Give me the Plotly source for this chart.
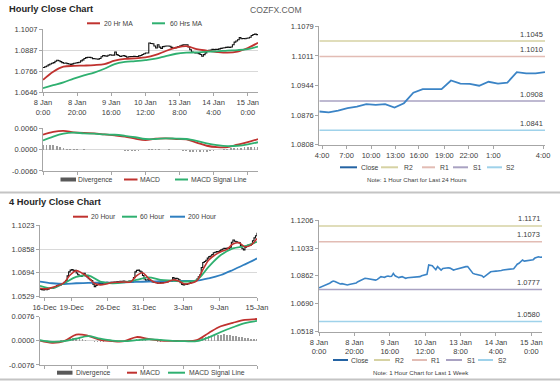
import plotly.graph_objects as go

W, H = 560, 386
FONT = "Liberation Sans, Arial, sans-serif"

# ---------------- data ----------------
# Hourly chart (8 Jan 0:00 .. 15 Jan ~6:00, weekend skipped), index = trading hour
hour_ticks = [0, 20, 40, 60, 80, 100, 120]
hour_labels = ["8 Jan<br>0:00", "8 Jan<br>20:00", "9 Jan<br>16:00", "10 Jan<br>12:00",
               "13 Jan<br>8:00", "14 Jan<br>4:00", "15 Jan<br>0:00"]
hourly_close = [
    1.0788, 1.0792, 1.0797, 1.0803, 1.0808, 1.0812, 1.0816, 1.0824, 1.0830, 1.0827,
    1.0822, 1.0816, 1.0812, 1.0814, 1.0810, 1.0808, 1.0806, 1.0809, 1.0812, 1.0814,
    1.0816, 1.0818, 1.0826, 1.0832, 1.0840, 1.0845, 1.0847, 1.0846, 1.0844, 1.0839,
    1.0838, 1.0837, 1.0836, 1.0840, 1.0850, 1.0857, 1.0855, 1.0853, 1.0858, 1.0861,
    1.0858, 1.0859, 1.0877, 1.0862, 1.0857, 1.0851, 1.0854, 1.0857, 1.0852, 1.0847,
    1.0850, 1.0851, 1.0851, 1.0852, 1.0851, 1.0851, 1.0855, 1.0857, 1.0863, 1.0867,
    1.0871, 1.0871, 1.0929, 1.0926, 1.0925, 1.0912, 1.0900, 1.0919, 1.0905, 1.0898,
    1.0908, 1.0910, 1.0912, 1.0912, 1.0910, 1.0904, 1.0898, 1.0901, 1.0904, 1.0908,
    1.0912, 1.0915, 1.0919, 1.0919, 1.0919, 1.0906, 1.0890, 1.0877, 1.0874, 1.0872,
    1.0871, 1.0868, 1.0863, 1.0853, 1.0862, 1.0872, 1.0882, 1.0887, 1.0889, 1.0892,
    1.0891, 1.0892, 1.0892, 1.0895, 1.0898, 1.0900, 1.0902, 1.0904, 1.0905, 1.0904,
    1.0906, 1.0919, 1.0934, 1.0940, 1.0948, 1.0960, 1.0953, 1.0955, 1.0953, 1.0956,
    1.0958, 1.0962, 1.0972, 1.0978, 1.0980, 1.0977, 1.0978,
]
ma_hours = list(range(0, 127, 6))
ma20_hr = [1.0717, 1.0764, 1.0793, 1.0797, 1.0799, 1.0802, 1.0808, 1.0827, 1.0837, 1.0841, 1.0846,
           1.0860, 1.0883, 1.0902, 1.0911, 1.0894, 1.0885, 1.0877, 1.0873, 1.0879, 1.0900, 1.0930]
ma60_hr = [1.0669, 1.0686, 1.0703, 1.0724, 1.0743, 1.0759, 1.0781, 1.0808, 1.0820, 1.0825, 1.0831,
           1.0839, 1.0854, 1.0867, 1.0873, 1.0875, 1.0879, 1.0881, 1.0885, 1.0888, 1.0894, 1.0908]
macd_hr = [0.0042, 0.0050, 0.0053, 0.0049, 0.0047, 0.0046, 0.0043, 0.0040, 0.0037, 0.0031, 0.0027,
           0.0031, 0.0032, 0.0030, 0.0029, 0.0020, 0.0011, 0.0007, 0.0007, 0.0014, 0.0021, 0.0030]
signal_hr = [0.0026, 0.0037, 0.0045, 0.0048, 0.0046, 0.0045, 0.0043, 0.0042, 0.0039, 0.0035, 0.0030,
             0.0030, 0.0032, 0.0031, 0.0030, 0.0025, 0.0018, 0.0013, 0.0010, 0.0011, 0.0015, 0.0021]
div_hours = list(range(0, 127, 2))
div_hr = [0.0014, 0.0014, 0.0013, 0.0012, 0.0010, 0.0007,
          0.0004, 0.0002, 0.0001, 0.0001, 0.0001,
          0.0000, 0.0001, 0.0000, 0.0000, -0.0001, 0.0000, 0.0000, -0.0002, 0.0000, -0.0001,
          -0.0001, -0.0002, -0.0002, -0.0003, -0.0003, -0.0004, -0.0004, -0.0003, -0.0002, -0.0001,
          0.0001, 0.0002, 0.0001, 0.0001, 0.0000, 0.0000, 0.0001, 0.0000, -0.0001, -0.0002,
          -0.0003, -0.0005, -0.0006, -0.0007, -0.0008, -0.0008, -0.0007, -0.0006, -0.0005, -0.0004,
          -0.0002, 0.0000, 0.0002, 0.0003, 0.0004, 0.0005, 0.0006, 0.0006, 0.0007, 0.0007, 0.0008,
          0.0008, 0.0008]

# Last 24 hours chart
day_ticks = [0.3, 2.9, 5.5, 8.1, 10.6, 13.3, 15.9, 18.5, 23.8]
day_labels = ["4:00", "7:00", "10:00", "13:00", "16:00", "19:00", "22:00", "1:00", "4:00"]
day_close = [1.0884, 1.0882, 1.0886, 1.0892, 1.0895, 1.0901, 1.0899, 1.0901, 1.0893, 1.0903,
             1.0927, 1.0935, 1.0935, 1.0935, 1.0955, 1.0948, 1.0947, 1.0943, 1.0952, 1.0948,
             1.0950, 1.0974, 1.0971, 1.0971, 1.0974]
day_levels = {"R2": 1.1045, "R1": 1.1010, "S1": 1.0908, "S2": 1.0841}
week_levels = {"R2": 1.1171, "R1": 1.1073, "S1": 1.0777, "S2": 1.0580}

# 4-hourly chart (16 Dec .. 15 Jan), index = 4h bar
bar_ticks = [3, 21, 45, 69, 95, 119, 144]
bar_labels = ["16-Dec", "19-Dec", "26-Dec", "31-Dec", "3-Jan", "9-Jan", "15-Jan"]
close_4h = [
    1.0580, 1.0577, 1.0575, 1.0578, 1.0576, 1.0580,
    1.0585, 1.0588, 1.0586, 1.0590, 1.0596,
    1.0605, 1.0610, 1.0608, 1.0612, 1.0618,
    1.0628, 1.0640, 1.0672, 1.0700,
    1.0712, 1.0715, 1.0706, 1.0710, 1.0692,
    1.0680, 1.0672, 1.0668, 1.0675, 1.0690,
    1.0672, 1.0665, 1.0652, 1.0645, 1.0640,
    1.0615, 1.0598, 1.0605, 1.0615, 1.0620,
    1.0622, 1.0620, 1.0625, 1.0622, 1.0628,
    1.0626, 1.0624, 1.0628, 1.0626, 1.0630,
    1.0628, 1.0632, 1.0630, 1.0635, 1.0632,
    1.0636, 1.0634, 1.0630, 1.0633, 1.0636,
    1.0626, 1.0630, 1.0660, 1.0700, 1.0710,
    1.0712, 1.0705, 1.0698, 1.0675, 1.0650,
    1.0642, 1.0645, 1.0638, 1.0640, 1.0632,
    1.0628, 1.0630, 1.0624, 1.0622, 1.0625,
    1.0628, 1.0625, 1.0632, 1.0635, 1.0630,
    1.0638, 1.0640, 1.0636, 1.0660, 1.0650,
    1.0655, 1.0652, 1.0645, 1.0625, 1.0612,
    1.0610, 1.0615, 1.0612, 1.0618, 1.0622,
    1.0630, 1.0632, 1.0635, 1.0640, 1.0650,
    1.0665, 1.0680, 1.0730, 1.0765, 1.0772,
    1.0780, 1.0795, 1.0805, 1.0810, 1.0820,
    1.0832, 1.0835, 1.0840, 1.0838, 1.0845,
    1.0852, 1.0858, 1.0862, 1.0860, 1.0865,
    1.0862, 1.0870, 1.0905, 1.0920, 1.0912,
    1.0908, 1.0905, 1.0900, 1.0880, 1.0860,
    1.0852, 1.0870, 1.0880, 1.0885, 1.0882,
    1.0890, 1.0915, 1.0935, 1.0950, 1.0970,
]
ma20_bars = list(range(0, 145, 4))
ma20_4h = [1.0587, 1.0582, 1.0591, 1.0605, 1.0626, 1.0678, 1.0708, 1.0690, 1.0662, 1.0621,
           1.0610, 1.0616, 1.0626, 1.0628, 1.0630, 1.0630, 1.0672, 1.0694, 1.0655, 1.0628,
           1.0621, 1.0628, 1.0644, 1.0637, 1.0616, 1.0621, 1.0637, 1.0713, 1.0782, 1.0816,
           1.0839, 1.0855, 1.0892, 1.0901, 1.0874, 1.0885, 1.0931]
ma_bars = list(range(0, 145, 8))
ma60_4h = [1.0603, 1.0587, 1.0621, 1.0665, 1.0675, 1.0633, 1.0621, 1.0628, 1.0644, 1.0662,
           1.0644, 1.0639, 1.0633, 1.0644, 1.0736, 1.0816, 1.0862, 1.0878, 1.0908]
ma200_4h = [1.0633, 1.0621, 1.0616, 1.0621, 1.0623, 1.0626, 1.0626, 1.0628, 1.0630, 1.0633,
            1.0635, 1.0637, 1.0637, 1.0639, 1.0655, 1.0678, 1.0713, 1.0752, 1.0793]
macd_4h = [0.0001, -0.0006, -0.0001, 0.0020, 0.0016, 0.0003, -0.0001, -0.0001, 0.0012, 0.0006,
           0.0001, 0.0000, -0.0001, 0.0002, 0.0025, 0.0046, 0.0057, 0.0066, 0.0069]
signal_4h = [0.0002, -0.0003, -0.0001, 0.0007, 0.0015, 0.0007, 0.0001, -0.0001, 0.0002, 0.0005,
             0.0003, 0.0000, -0.0001, -0.0001, 0.0011, 0.0028, 0.0043, 0.0056, 0.0063]
div_bars = list(range(0, 145, 2))
div_4h = [-0.0001, -0.0002, -0.0003, -0.0003, -0.0002, -0.0001, 0.0000, 0.0002,
          0.0004, 0.0007, 0.0009, 0.0010, 0.0010, 0.0009, 0.0007, 0.0004,
          0.0001, -0.0002, -0.0004, -0.0005, -0.0004, -0.0003, -0.0002, -0.0001,
          0.0000, 0.0000, 0.0000, 0.0000, 0.0000, 0.0001, 0.0002, 0.0003,
          0.0005, 0.0006, 0.0005, 0.0003, 0.0001, -0.0001, -0.0002, -0.0003,
          -0.0003, -0.0002, -0.0001, 0.0000, 0.0000, -0.0001, -0.0002, -0.0002,
          -0.0001, 0.0000, 0.0001, 0.0002, 0.0003, 0.0006, 0.0009, 0.0012,
          0.0014, 0.0016, 0.0018, 0.0019, 0.0020, 0.0021, 0.0020, 0.0018,
          0.0016, 0.0014, 0.0013, 0.0011, 0.0009, 0.0008, 0.0006, 0.0005, 0.0005]

# ---------------- style ----------------
RED = "#c0322f"
GREEN = "#2fb070"
BLUE200 = "#2f7fc0"
CLOSE = "#3b84c6"
LEVEL_COL = {"R2": "#d6d2a3", "R1": "#e2bcb4", "S1": "#a9a2c2", "S2": "#9fd2ea"}
DIV = "#9c9c9c"
AX = "#a6a6a6"
GRID = "#d9d9d9"
TICKF = dict(size=7.5, color="#404040", family=FONT)


def xd(x0, x1):
    return [x0 / W, x1 / W]


def yd(y0, y1):
    return [1 - y1 / H, 1 - y0 / H]


def px(x):
    return x / W


def py(y):
    return 1 - y / H


def yaxis(dom, lo, hi, vals, grid, anchor):
    return dict(domain=dom, range=[lo - (hi - lo) * 0.002, hi + (hi - lo) * 0.002],
                tickvals=vals, ticktext=[f"{v:.4f}" for v in vals],
                showgrid=grid, gridcolor=GRID, gridwidth=1, zeroline=False,
                showline=True, linecolor=AX, linewidth=1, ticks="outside", ticklen=3,
                tickcolor=AX, tickfont=TICKF, anchor=anchor, fixedrange=True, automargin=False)


def xaxis(dom, lo, hi, vals, labels, anchor, show_labels=True):
    return dict(domain=dom, range=[lo, hi], tickvals=vals, ticktext=labels,
                showticklabels=show_labels, showgrid=False, zeroline=False,
                showline=True, linecolor=AX, linewidth=1, ticks="outside", ticklen=3,
                tickcolor=AX, tickfont=TICKF, anchor=anchor, tickangle=0, fixedrange=True,
                automargin=False)


fig = go.Figure()


def line(x, y, color, width, xa, ya, shape="linear"):
    fig.add_trace(go.Scatter(x=x, y=y, mode="lines", line=dict(color=color, width=width, shape=shape),
                             xaxis=xa, yaxis=ya, showlegend=False, hoverinfo="skip"))


# Top-left: hourly close with MAs
line(list(range(len(hourly_close))), hourly_close, "#111111", 1.1, "x", "y", "hv")
line(ma_hours, ma20_hr, RED, 1.8, "x", "y", "spline")
line(ma_hours, ma60_hr, GREEN, 1.8, "x", "y", "spline")
# Top-left MACD
fig.add_trace(go.Bar(x=div_hours, y=div_hr, width=1.0, marker=dict(color=DIV, line=dict(width=0)),
                     xaxis="x2", yaxis="y2", showlegend=False, hoverinfo="skip"))
line(ma_hours, macd_hr, RED, 1.8, "x2", "y2", "spline")
line(ma_hours, signal_hr, GREEN, 1.8, "x2", "y2", "spline")

# Top-right: last 24 hours with pivot levels
for name, lvl in day_levels.items():
    line([0, len(day_close) - 1], [lvl, lvl], LEVEL_COL[name], 1.5, "x3", "y3")
line(list(range(len(day_close))), day_close, CLOSE, 1.8, "x3", "y3")

# Bottom-left: 4-hourly close with MAs
line(list(range(len(close_4h))), close_4h, "#111111", 1.1, "x4", "y4", "hv")
line(ma_bars, ma200_4h, BLUE200, 1.8, "x4", "y4", "spline")
line(ma_bars, ma60_4h, GREEN, 1.8, "x4", "y4", "spline")
line(ma20_bars, ma20_4h, RED, 1.6, "x4", "y4", "spline")
# Bottom-left MACD
fig.add_trace(go.Bar(x=div_bars, y=div_4h, width=0.9, marker=dict(color=DIV, line=dict(width=0)),
                     xaxis="x5", yaxis="y5", showlegend=False, hoverinfo="skip"))
line(ma_bars, macd_4h, RED, 1.8, "x5", "y5", "spline")
line(ma_bars, signal_4h, GREEN, 1.8, "x5", "y5", "spline")

# Bottom-right: last week with pivot levels
for name, lvl in week_levels.items():
    line([0, len(hourly_close) - 1], [lvl, lvl], LEVEL_COL[name], 1.5, "x6", "y6")
line(list(range(len(hourly_close))), hourly_close, CLOSE, 1.6, "x6", "y6")

n_h = len(hourly_close) - 1
fig.update_layout(
    template="none",
    width=W, height=H, margin=dict(l=0, r=0, t=0, b=0, pad=0),
    paper_bgcolor="white", plot_bgcolor="white", showlegend=False,
    font=dict(family=FONT, color="#404040"), bargap=0,
    xaxis=xaxis(xd(43, 258), 0, n_h, hour_ticks, hour_labels, "y"),
    yaxis=yaxis(yd(29.3, 92.3), 1.0646, 1.1007, [1.0646, 1.0766, 1.0887, 1.1007], True, "x"),
    xaxis2=xaxis(xd(43, 258), 0, n_h, hour_ticks, hour_labels, "y2", False),
    yaxis2=yaxis(yd(128.3, 171), -0.006, 0.006, [-0.006, 0.0, 0.006], True, "x2"),
    xaxis3=xaxis(xd(319.3, 545), 0, len(day_close) - 1, day_ticks, day_labels, "y3"),
    yaxis3=yaxis(yd(26, 145), 1.0808, 1.1079, [1.0808, 1.0876, 1.0944, 1.1011, 1.1079], False, "x3"),
    xaxis4=xaxis(xd(40, 257), 0, len(close_4h) - 1, bar_ticks, bar_labels, "y4"),
    yaxis4=yaxis(yd(225, 296.7), 1.0529, 1.1023, [1.0529, 1.0694, 1.0858, 1.1023], True, "x4"),
    xaxis5=xaxis(xd(40, 257), 0, len(close_4h) - 1, bar_ticks, bar_labels, "y5", False),
    yaxis5=yaxis(yd(316.7, 365), -0.0076, 0.0076, [-0.0076, 0.0, 0.0076], True, "x5"),
    xaxis6=xaxis(xd(319, 542), 0, n_h, hour_ticks, hour_labels, "y6"),
    yaxis6=yaxis(yd(220, 331.7), 1.0518, 1.1206, [1.0518, 1.0690, 1.0862, 1.1033, 1.1206], False, "x6"),
)

shapes = []
ann = []


def text(x, y, s, size=6.8, color="#404040", anchor="left", bold=False):
    ann.append(dict(x=px(x), y=py(y), xref="paper", yref="paper", text=f"<b>{s}</b>" if bold else s,
                    showarrow=False, xanchor=anchor, yanchor="middle",
                    font=dict(size=size, color=color, family=FONT)))


def leg_line(x0, x1, y, color, width=2):
    shapes.append(dict(type="line", xref="paper", yref="paper", x0=px(x0), x1=px(x1), y0=py(y), y1=py(y),
                       line=dict(color=color, width=width)))


def leg_rect(x0, x1, y, color):
    shapes.append(dict(type="rect", xref="paper", yref="paper", x0=px(x0), x1=px(x1),
                       y0=py(y + 2), y1=py(y - 2), fillcolor=color, line=dict(width=0)))


# separators
for ys in (192.5, 379.5):
    shapes.append(dict(type="line", xref="paper", yref="paper", x0=0, x1=1, y0=py(ys), y1=py(ys),
                       line=dict(color="#c4c4c4", width=2)))

# titles
text(7, 9.5, "Hourly Close Chart", 9.3, "#262626", bold=True)
text(7, 201.5, "4 Hourly Close Chart", 9.3, "#262626", bold=True)
text(248, 10, "COZFX.COM", 8.6, "#5e5e5e")

# top-left legends
leg_line(87, 100, 23.3, RED); text(102, 23.3, "20 Hr MA")
leg_line(152, 165, 23.3, GREEN); text(167.5, 23.3, "60 Hrs MA")
leg_rect(60.5, 76, 179.5, "#595959"); text(76, 179.5, "Divergence")
leg_line(124, 137.5, 179.5, RED); text(138, 179.5, "MACD")
leg_line(175, 188, 179.5, GREEN); text(189, 179.5, "MACD Signal Line")

# bottom-left legends
leg_line(73, 88, 216.7, RED); text(89, 216.7, "20 Hour")
leg_line(122, 137, 216.7, GREEN); text(137.5, 216.7, "60 Hour")
leg_line(170, 185, 216.7, BLUE200); text(186, 216.7, "200 Hour")
leg_rect(57, 72.5, 372.7, "#595959"); text(73.5, 372.7, "Divergence")
leg_line(127, 137, 372.7, RED); text(137.5, 372.7, "MACD")
leg_line(168, 185, 372.7, GREEN); text(187, 372.7, "MACD Signal Line")

# right legends
for yy, spots in ((167.3, [(340, 357, 359), (381, 398, 402), (422, 435, 437.5), (453, 468, 471), (487, 502, 504)]),
                  (360.0, [(333, 348, 349), (374, 390, 392.5), (412, 427, 429), (446, 462, 464.5), (478, 493, 495.5)])):
    names = ["Close", "R2", "R1", "S1", "S2"]
    cols = ["#2463a3"] + [LEVEL_COL[n] for n in names[1:]]
    for (a, b, t), n, c in zip(spots, names, cols):
        leg_line(a, b, yy, c, 2)
        text(t, yy, n)
text(417, 179.5, "Note: 1 Hour Chart for Last 24 Hours", 6.1, "#404040", "center")
text(421, 372.7, "Note: 1 Hour Chart for Last 1 Week", 6.1, "#404040", "center")

# level labels
for levels, xa, ya, xend in ((day_levels, "x3", "y3", len(day_close) - 1), (week_levels, "x6", "y6", n_h)):
    for name, lvl in levels.items():
        ann.append(dict(x=xend, y=lvl, xref=xa, yref=ya, text=f"{lvl:.4f}", showarrow=False,
                        xanchor="right", yanchor="bottom", yshift=0.5,
                        font=dict(size=7.5, color="#404040", family=FONT)))

fig.update_layout(shapes=shapes, annotations=ann)
fig.write_html("out.html", config={"staticPlot": True},
               post_script="document.body.style.margin='0';document.body.style.padding='0';")
